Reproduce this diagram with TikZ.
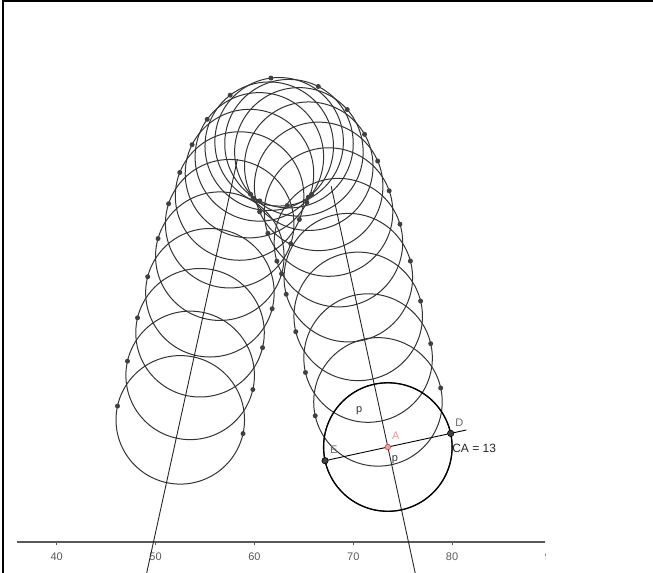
\documentclass[tikz,border=0pt]{standalone}
\usepackage{fontspec}
\setmainfont{Liberation Sans}
\usetikzlibrary{positioning,calc}
\definecolor{apink}{RGB}{244,160,160}
\definecolor{ared}{RGB}{196,70,70}
\begin{document}
\begin{tikzpicture}[x=9.885pt,y=9.885pt,
	trace/.style={line width=1pt,color=black!80},
	tangent/.style={line width=0.9pt,color=black!85},
	envdot/.style={circle,fill=black!75,inner sep=0pt,minimum size=5pt},
	enddot/.style={circle,fill=black!75,draw=black,line width=0.6pt,inner sep=0pt,minimum size=6.4pt},
	lbl/.style={inner sep=0pt,font=\fontsize{11}{13}\selectfont}]
	\useasboundingbox (34.264,-3.136) rectangle (100.324,54.83);
	% frame of the view
	\draw [line width=2pt] (34.57,-3.136) -- (34.57,54.73) -- (100.324,54.73);
	% axis, cut at the edge of the view
	\begin{scope}
		\clip (34.264,-3.136) rectangle (89.42,54.83);
		\draw [line width=1.1pt,color=black!65] (35.98,0) -- (89.6,0);
		\foreach \k in {40,50,...,90}{
			\draw [line width=0.7pt,color=black!65] (\k,0) -- (\k,-0.35);
			\node [inner sep=0pt,text=black!65,font=\fontsize{11}{13}\selectfont] at (\k,-1.47) (n\k) {\k};
		}
	\end{scope}
	% circles along the path
	\foreach \t in {0,...,21}{
		\pgfmathsetmacro\cu{52.5+\t}
		\pgfmathsetmacro\ang{deg(0.139*(\cu-62.7))}
		\pgfmathsetmacro\cv{7.3+33.2*cos(\ang)}
		\pgfmathsetmacro\sl{-4.6148*sin(\ang)}
		\pgfmathsetmacro\ln{sqrt(1+\sl*\sl)}
		\pgfmathsetmacro\dxa{\cu-6.5*\sl/\ln}
		\pgfmathsetmacro\dya{\cv+6.5/\ln}
		\pgfmathsetmacro\exa{\cu+6.5*\sl/\ln}
		\pgfmathsetmacro\eya{\cv-6.5/\ln}
		\pgfmathsetmacro\txa{\cu+27/\ln}
		\pgfmathsetmacro\tya{\cv+27*\sl/\ln}
		\pgfmathsetmacro\txb{\cu-27/\ln}
		\pgfmathsetmacro\tyb{\cv-27*\sl/\ln}
		\coordinate (c\t) at (\cu,\cv);
		\coordinate (pd\t) at (\dxa,\dya);
		\coordinate (pe\t) at (\exa,\eya);
		\coordinate (ta\t) at (\txa,\tya);
		\coordinate (tb\t) at (\txb,\tyb);
		\draw [trace] (c\t) circle [radius=6.5];
	}
	% tangent lines at the first and the last place
	\draw [tangent] (ta0) -- (tb0);
	\draw [tangent] (ta21) -- (tb21);
	\draw [line width=1.3pt] (c21) circle [radius=6.5];
	% points of the envelope
	\foreach \t in {0,...,20}{
		\node [envdot] at (pd\t) (d\t) {};
		\node [envdot] at (pe\t) (e\t) {};
	}
	\node [enddot] at (pd21) (D) {};
	\node [enddot] at (pe21) (E) {};
	\node [circle,fill=apink,draw=ared,line width=0.6pt,inner sep=0pt,minimum size=5.5pt] at (c21) (A) {};
	\coordinate (dend) at ($(pe21)!1.125!(pd21)$);
	\draw [line width=0.9pt] (E) -- (A) (A) -- (D) (D) -- (dend);
	% labels
	\node [lbl,text=apink!90!ared,above right=4.8pt and 1.9pt of A] (lA) {A};
	\node [lbl,text=black!60,above right=3.8pt and 2.1pt of D] (lD) {D};
	\node [lbl,text=black!60,above right=4.3pt and 2.4pt of E] (lE) {E};
	\node [lbl,text=black!80,anchor=base] at (70.60,13.05) (lp1) {p};
	\node [lbl,text=black!80,anchor=base] at (74.22,8.12) (lp2) {p};
	\node [inner sep=0pt,anchor=base west,font=\fontsize{12}{14}\selectfont,text=black!85] at (80.0,9.03) (lCA) {CA = 13};
\end{tikzpicture}
\end{document}
